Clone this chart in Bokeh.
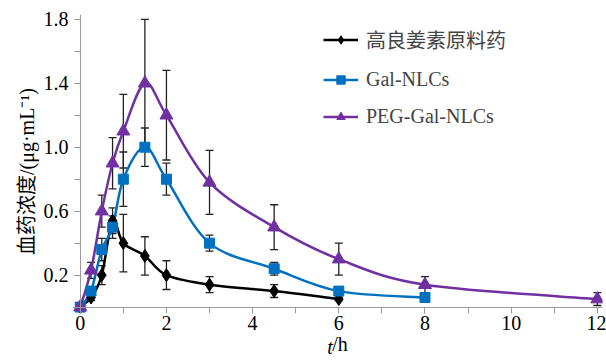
import numpy as np
from bokeh.plotting import figure
from bokeh.models import (Range1d, FixedTicker, Whisker, ColumnDataSource, TeeHead,
                          Legend, LegendItem, CustomJSTickFormatter, LinearAxis)
from bokeh.embed import file_html
from bokeh.resources import INLINE

# ---- data ----
t_raw = [0, 0.25, 0.5, 0.75, 1, 1.5, 2, 3, 4.5, 6]
c_raw = [0, 0.06, 0.2, 0.54, 0.4, 0.32, 0.2, 0.14, 0.1, 0.05]
e_raw = [0, 0.02, 0.06, 0.08, 0.18, 0.12, 0.09, 0.05, 0.04, 0.01]

t_nlc = [0, 0.25, 0.5, 0.75, 1, 1.5, 2, 3, 4.5, 6, 8]
c_nlc = [0, 0.1, 0.36, 0.5, 0.8, 1.0, 0.8, 0.4, 0.24, 0.1, 0.06]
e_nlc = [0, 0.02, 0.07, 0.07, 0.17, 0.12, 0.1, 0.05, 0.04, 0.01, 0.01]

t_peg = [0, 0.25, 0.5, 0.75, 1, 1.5, 2, 3, 4.5, 6, 8, 12]
c_peg = [0, 0.23, 0.6, 0.9, 1.1, 1.4, 1.2, 0.78, 0.5, 0.3, 0.14, 0.05]
e_peg = [0, 0.05, 0.1, 0.16, 0.23, 0.4, 0.28, 0.2, 0.14, 0.1, 0.05, 0.04]

names = ["高良姜素原料药", "Gal-NLCs", "PEG-Gal-NLCs"]
x_ticks = [0, 2, 4, 6, 8, 10, 12]
x_minor = list(range(0, 13))
y_ticks = [0.2, 0.6, 1.0, 1.4, 1.8]
y_minor = [0, 0.2, 0.4, 0.6, 0.8, 1.0, 1.2, 1.4, 1.6, 1.8]
y_title = "血药浓度/(μg·mL⁻¹)"
x_title_var = "t"
x_title_unit = "/h"

SERIF = "'Liberation Serif', 'Noto Sans CJK SC'"
AX = "#9a9a9a"
FS = "20px"
NB = "\u00a0"

p = figure(width=606, height=360, output_backend="svg", toolbar_location=None,
           x_range=Range1d(-0.18, 12.12), y_range=Range1d(-0.04, 1.83),
           min_border_left=72, min_border_right=4, min_border_top=14, min_border_bottom=46)
p.outline_line_color = None
p.grid.grid_line_color = None
p.background_fill_color = "white"


def label_only(ax):
    ax.axis_line_color = None
    ax.major_tick_line_color = None
    ax.minor_tick_line_color = None
    ax.major_tick_in = 0
    ax.major_tick_out = 0
    ax.minor_tick_in = 0
    ax.minor_tick_out = 0
    ax.major_label_text_font = SERIF
    ax.major_label_text_font_size = FS
    ax.major_label_text_color = "black"
    ax.axis_label_text_font = SERIF
    ax.axis_label_text_font_size = FS
    ax.axis_label_text_color = "black"
    ax.axis_label_text_font_style = "normal"


# label axes at the frame edges
label_only(p.xaxis[0])
label_only(p.yaxis[0])
p.xaxis[0].major_label_standoff = 2
p.yaxis[0].major_label_standoff = 4
p.xaxis[0].ticker = FixedTicker(ticks=x_ticks, minor_ticks=[])
p.yaxis[0].ticker = FixedTicker(ticks=y_ticks, minor_ticks=[])
p.yaxis[0].formatter = CustomJSTickFormatter(code="return tick.toFixed(1);")
p.yaxis[0].axis_label = y_title + NB * 3
p.yaxis[0].axis_label_standoff = 3
p.xaxis[0].axis_label = NB + x_title_unit
p.xaxis[0].axis_label_standoff = 0

# line + tick axes pinned at zero
blank = CustomJSTickFormatter(code="return '';")
xa = LinearAxis(fixed_location=0, ticker=FixedTicker(ticks=x_ticks, minor_ticks=x_minor),
                formatter=blank, major_label_text_font_size="0px")
ya = LinearAxis(fixed_location=0, ticker=FixedTicker(ticks=y_ticks, minor_ticks=y_minor),
                formatter=blank, major_label_text_font_size="0px")
for ax in (xa, ya):
    ax.axis_line_color = AX
    ax.major_tick_line_color = AX
    ax.minor_tick_line_color = AX
    ax.major_tick_in = 0
    ax.minor_tick_in = 0
    ax.major_tick_out = 6
    ax.minor_tick_out = 6
    ax.major_label_standoff = 0
p.add_layout(xa, "below")
p.add_layout(ya, "left")

# italic variable part of the x title
xb = LinearAxis(ticker=FixedTicker(ticks=[], minor_ticks=[]), formatter=blank)
label_only(xb)
xb.major_label_text_font_size = "0px"
xb.major_label_standoff = 0
xb.axis_label = x_title_var + NB * 3
xb.axis_label_text_font_style = "italic"
xb.axis_label_standoff = -22
p.add_layout(xb, "below")


def bezier_src(t, c):
    P = np.column_stack([t, c]).astype(float)
    n = len(P)
    x0, y0, x1, y1, cx0, cy0, cx1, cy1 = [], [], [], [], [], [], [], []
    for i in range(n - 1):
        pm = P[i - 1] if i > 0 else P[i]
        p0 = P[i]
        p1 = P[i + 1]
        pp = P[i + 2] if i + 2 < n else P[i + 1]
        c0 = p0 + (p1 - pm) / 6.0
        c1 = p1 - (pp - p0) / 6.0
        x0.append(p0[0]); y0.append(p0[1]); x1.append(p1[0]); y1.append(p1[1])
        cx0.append(c0[0]); cy0.append(c0[1]); cx1.append(c1[0]); cy1.append(c1[1])
    return ColumnDataSource(dict(x0=x0, y0=y0, x1=x1, y1=y1,
                                 cx0=cx0, cy0=cy0, cx1=cx1, cy1=cy1))


series = [
    (t_raw, c_raw, e_raw, "black", "diamond", 13),
    (t_nlc, c_nlc, e_nlc, "#0070C0", "square", 10),
    (t_peg, c_peg, e_peg, "#7030A0", "triangle", 13),
]

items = []
lines = []
for (t, c, e, col, mk, sz) in series:
    b = p.bezier(x0="x0", y0="y0", x1="x1", y1="y1", cx0="cx0", cy0="cy0",
                 cx1="cx1", cy1="cy1", source=bezier_src(t, c), line_color=col, line_width=2.5)
    lines.append(b)

for (t, c, e, col, mk, sz) in series:
    src = ColumnDataSource(dict(t=t, c=c, lo=[ci - ei for ci, ei in zip(c, e)],
                                hi=[ci + ei for ci, ei in zip(c, e)]))
    w = Whisker(base="t", upper="hi", lower="lo", source=src, line_color="#222222", line_width=1.3,
                upper_head=TeeHead(size=8, line_color="#222222", line_width=1.3),
                lower_head=TeeHead(size=8, line_color="#222222", line_width=1.3))
    p.add_layout(w)

for (t, c, e, col, mk, sz), b, name in zip(series, lines, names):
    src = ColumnDataSource(dict(t=t, c=c))
    m = p.scatter("t", "c", source=src, marker=mk, size=sz, fill_color=col, line_color=col)
    items.append(LegendItem(label=name, renderers=[b, m]))

legend = Legend(items=items, location=(251, 185), border_line_color=None,
                background_fill_alpha=0, glyph_width=35, glyph_height=21, label_height=21,
                spacing=14, padding=0, margin=0, label_standoff=8,
                label_text_font=SERIF, label_text_font_size=FS)
p.add_layout(legend, "center")

open("out.html", "w").write(file_html(p, INLINE))
